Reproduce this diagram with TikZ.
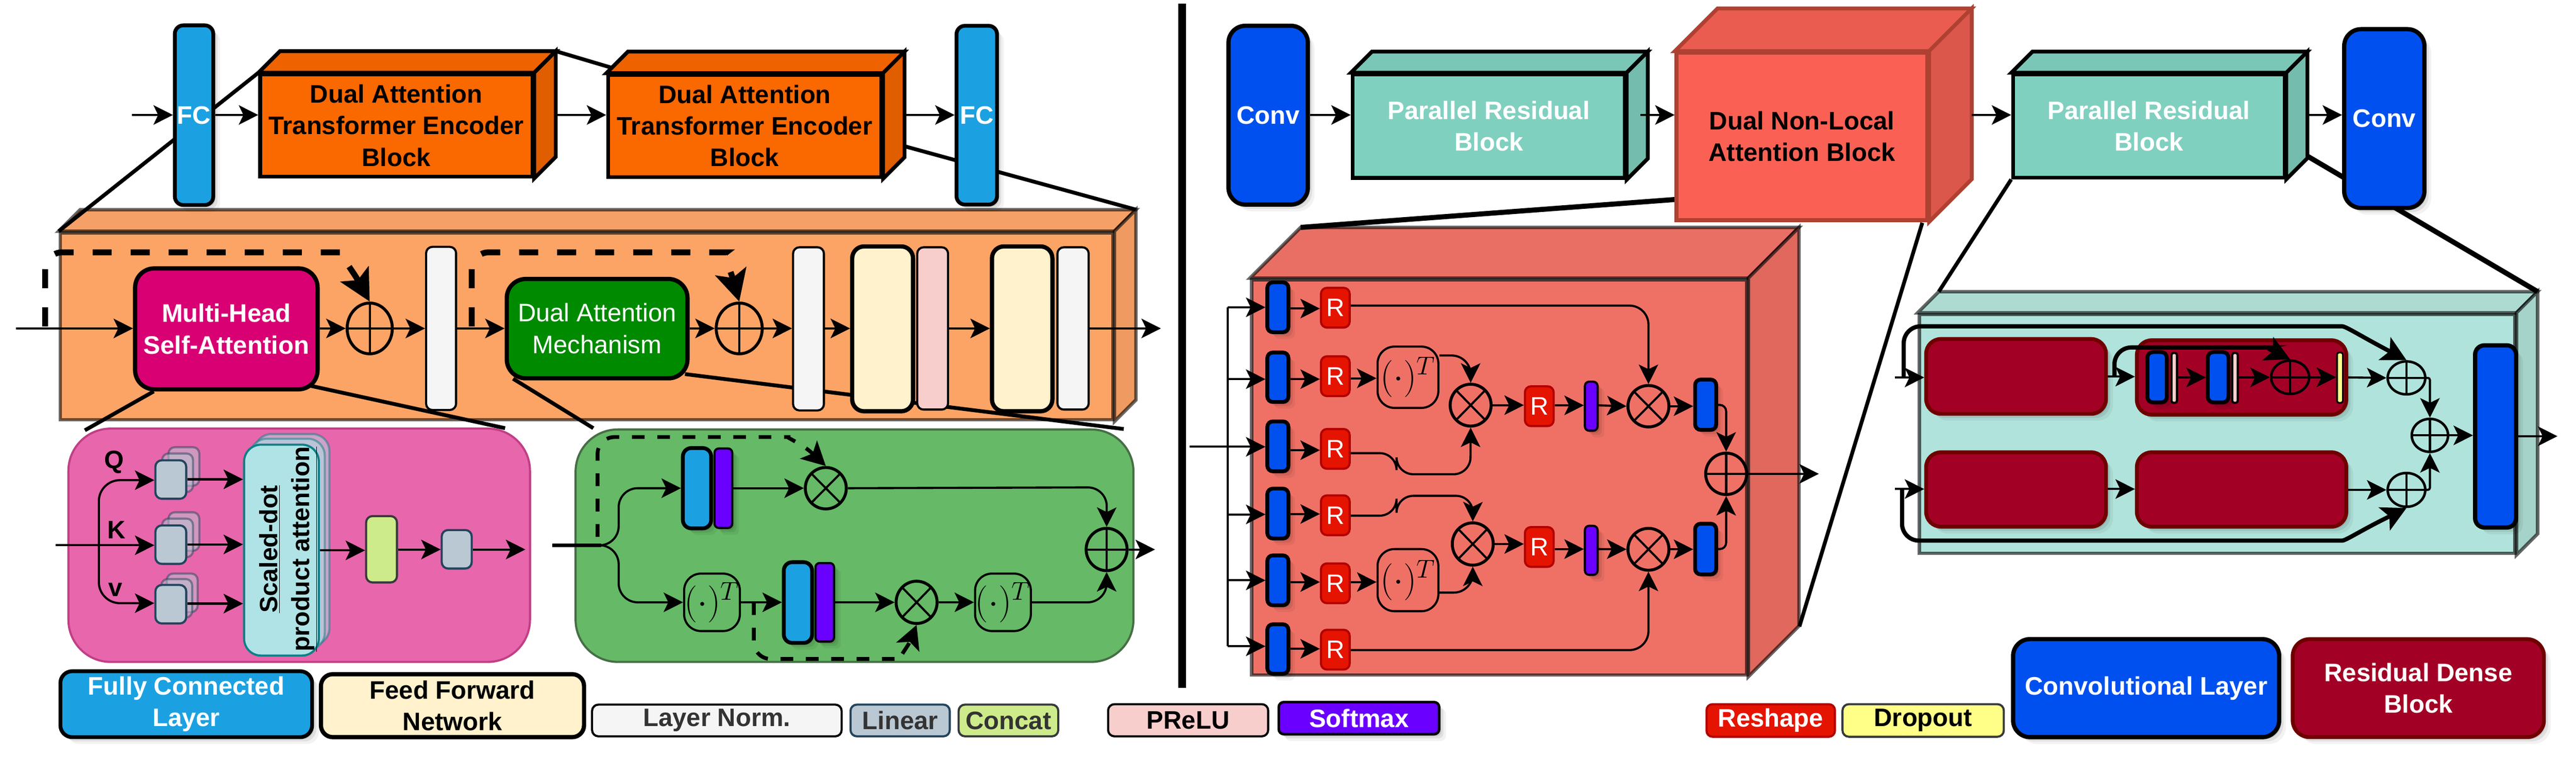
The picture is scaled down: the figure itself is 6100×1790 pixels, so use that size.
\documentclass[tikz,border=0pt]{standalone}
\usepackage{fontspec}
\setmainfont{Liberation Sans}
\usetikzlibrary{arrows.meta,shapes.geometric,shadows,calc}
\definecolor{cFC}{HTML}{1BA1E2}
\definecolor{cConv}{HTML}{0050EF}
\definecolor{cSoft}{HTML}{6A00FF}
\definecolor{cFFN}{HTML}{FFF2CC}
\definecolor{cPR}{HTML}{F8CECC}
\definecolor{cLN}{HTML}{F5F5F5}
\definecolor{cLin}{HTML}{BAC8D3}
\definecolor{cLinS}{HTML}{23445D}
\definecolor{cCat}{HTML}{CDEB8B}
\definecolor{cDark}{HTML}{36393D}
\definecolor{cRes}{HTML}{E51400}
\definecolor{cResS}{HTML}{B20000}
\definecolor{cDrop}{HTML}{FFFF88}
\definecolor{cRDB}{HTML}{A20025}
\definecolor{cRDBS}{HTML}{6F0000}
\definecolor{cMH}{HTML}{D80073}
\definecolor{cDA}{HTML}{008A00}
\definecolor{cSD}{HTML}{B0E3E6}
\definecolor{cSDS}{HTML}{0E8088}
\tikzset{
  fb/.style={font=\fontsize{17}{21.2}\selectfont\bfseries},
  fr/.style={font=\fontsize{17}{21.6}\selectfont},
  softsh/.style={
    general shadow={shadow xshift=.16cm,shadow yshift=-.16cm,fill=black,opacity=.05},
    general shadow={shadow xshift=.10cm,shadow yshift=-.10cm,fill=black,opacity=.08},
    general shadow={shadow xshift=.05cm,shadow yshift=-.05cm,fill=black,opacity=.10}},
  box/.style={rectangle,inner sep=0pt,align=center,draw=black,rounded corners=.15cm},
  fcbox/.style={box,fill=cFC,line width=.09cm,rounded corners=.2cm,text=white,fb,softsh},
  convbox/.style={box,fill=cConv,line width=.1cm,rounded corners=.4cm,text=white,fb,softsh},
  sconv/.style={box,fill=cConv,line width=.09cm,rounded corners=.13cm,softsh},
  softbox/.style={box,fill=cSoft,line width=.05cm,rounded corners=.1cm,softsh},
  ffnbox/.style={box,fill=cFFN,line width=.1cm,rounded corners=.28cm,fb},
  prbox/.style={box,fill=cPR,line width=.05cm},
  lnbox/.style={box,fill=cLN,line width=.05cm},
  linbox/.style={box,fill=cLin,draw=cLinS,line width=.05cm},
  catbox/.style={box,fill=cCat,draw=cDark,line width=.05cm},
  rbox/.style={box,fill=cRes,draw=cResS,line width=.05cm,rounded corners=.14cm,text=white,fr},
  dropbox/.style={box,fill=cDrop,line width=.04cm,rounded corners=.05cm},
  rdb/.style={box,fill=cRDB,draw=cRDBS,line width=.09cm,rounded corners=.35cm,text=white,fb,softsh},
  tbox/.style={box,line width=.05cm,rounded corners=.4cm,font=\fontsize{25}{25}\selectfont},
  panel/.style={box,rounded corners=1cm},
  sdpbox/.style={box,fill=cSD,draw=cSDS,line width=.05cm,rounded corners=.4cm},
  oplus/.style={ellipse,draw=black,line width=.07cm,inner sep=0pt,
    path picture={\draw[line width=.05cm] (path picture bounding box.north)--(path picture bounding box.south)
      (path picture bounding box.west)--(path picture bounding box.east);}},
  otimes/.style={ellipse,draw=black,line width=.07cm,inner sep=0pt,
    path picture={\draw[line width=.05cm] (path picture bounding box.north west)--(path picture bounding box.south east)
      (path picture bounding box.south west)--(path picture bounding box.north east);}},
  arr/.style={-{Stealth[length=.46cm,width=.46cm,inset=.11cm]},line width=.05cm},
  arrbig/.style={-{Stealth[length=.58cm,width=.6cm,inset=.13cm]},line width=.1cm,rounded corners=.4cm},
  conn/.style={line width=.05cm},
  zl/.style={line width=.09cm,black},
  zlb/.style={line width=.12cm,black},
  dashbig/.style={-{Stealth[length=.74cm,width=.75cm,inset=.16cm]},line width=.14cm,dash pattern=on .45cm off .45cm,rounded corners=.4cm},
  dashsm/.style={-{Stealth[length=.56cm,width=.58cm,inset=.13cm]},line width=.09cm,dash pattern=on .3cm off .3cm,rounded corners=.4cm},
  orange top/.style={fill={rgb,255:red,245;green,160;blue,102},draw=black,draw opacity=.6,line width=.08cm},
  orange side/.style={fill={rgb,255:red,238;green,154;blue,96},draw=black,draw opacity=.6,line width=.08cm},
  orange front/.style={box,rounded corners=0pt,fill={rgb,255:red,252;green,164;blue,102},draw=black,draw opacity=.6,line width=.08cm},
  date top/.style={fill={rgb,255:red,238;green,98;blue,0},draw=black,line width=.09cm},
  date side/.style={fill={rgb,255:red,224;green,93;blue,0},draw=black,line width=.09cm},
  date front/.style={box,rounded corners=0pt,fill={rgb,255:red,250;green,104;blue,0},line width=.09cm,fb},
  prb top/.style={fill={rgb,255:red,122;green,198;blue,183},draw=black,line width=.09cm},
  prb side/.style={fill={rgb,255:red,116;green,188;blue,174},draw=black,line width=.09cm},
  prb front/.style={box,rounded corners=0pt,fill={rgb,255:red,128;green,208;blue,192},line width=.09cm,fb,text=white},
  dnl top/.style={fill={rgb,255:red,233;green,92;blue,79},draw={rgb,255:red,174;green,65;blue,50},line width=.09cm},
  dnl side/.style={fill={rgb,255:red,220;green,87;blue,75},draw={rgb,255:red,174;green,65;blue,50},line width=.09cm},
  dnl front/.style={box,rounded corners=0pt,fill={rgb,255:red,250;green,97;blue,84},draw={rgb,255:red,174;green,65;blue,50},line width=.09cm,fb},
  att top/.style={fill={rgb,255:red,233;green,111;blue,100},draw=black,draw opacity=.6,line width=.08cm},
  att side/.style={fill={rgb,255:red,224;green,104;blue,93},draw=black,draw opacity=.6,line width=.08cm},
  att front/.style={box,rounded corners=0pt,fill={rgb,255:red,239;green,113;blue,102},draw=black,draw opacity=.6,line width=.08cm},
  teal top/.style={fill={rgb,255:red,173;green,219;blue,210},draw=black,draw opacity=.6,line width=.08cm},
  teal side/.style={fill={rgb,255:red,165;green,210;blue,201},draw=black,draw opacity=.6,line width=.08cm},
  teal front/.style={box,rounded corners=0pt,fill={rgb,255:red,176;green,227;blue,219},draw=black,draw opacity=.6,line width=.08cm},
}
\newcommand{\bx}[6]{%
  \pgfmathsetmacro\bxX{(#3+#5)/2}\pgfmathsetmacro\bxY{(#4+#6)/2}%
  \pgfmathsetmacro\bxW{(#5-#3-8)*0.01}\pgfmathsetmacro\bxH{(#6-#4-8)*0.01}%
  \node[#1,minimum width=\bxW cm,minimum height=\bxH cm] (#2) at (\bxX,\bxY)}
\newcommand{\cube}[8]{%
  \pgfmathsetmacro\cubA{#2+#6}\pgfmathsetmacro\cubB{#3-#6}\pgfmathsetmacro\cubC{#4+#6}\pgfmathsetmacro\cubD{#5-#6}%
  \coordinate (#1-tl) at (#2,#3);\coordinate (#1-btl) at (\cubA,\cubB);\coordinate (#1-btr) at (\cubC,\cubB);
  \coordinate (#1-tr) at (#4,#3);\coordinate (#1-bbr) at (\cubC,\cubD);\coordinate (#1-br) at (#4,#5);
  \draw[#7 top] (#1-tl)--(#1-btl)--(#1-btr)--(#1-tr)--cycle;
  \draw[#7 side] (#1-tr)--(#1-btr)--(#1-bbr)--(#1-br)--cycle;
  \bx{#7 front}{#1}{#2}{#3}{#4}{#5}{#8};}
\newcommand{\stk}[8]{%
  \pgfmathsetmacro\stA{#3+#8}\pgfmathsetmacro\stB{#4-#8}\pgfmathsetmacro\stC{#5+#8}\pgfmathsetmacro\stD{#6-#8}%
  \bx{#1,opacity=.5}{#2c}{\stA}{\stB}{\stC}{\stD}{};
  \pgfmathsetmacro\stA{#3+#7}\pgfmathsetmacro\stB{#4-#7}\pgfmathsetmacro\stC{#5+#7}\pgfmathsetmacro\stD{#6-#7}%
  \bx{#1,opacity=.5}{#2b}{\stA}{\stB}{\stC}{\stD}{};
  \bx{#1}{#2}{#3}{#4}{#5}{#6}{};}
\newcommand{\TT}{$(\cdot)^{T}$}
\begin{document}
\begin{tikzpicture}[x=0.01cm,y=-0.01cm]
\useasboundingbox (0,0) rectangle (6100,1790);
\fill[white] (0,0) rectangle (6100,1790);

%%% LEFT PANELS
\cube{oc}{139}{547}{2639}{997}{51}{orange}{}
\bx{panel,fill={rgb,255:red,232;green,102;blue,171},draw={rgb,255:red,193;green,63;blue,133},line width=.05cm}{pink}{158}{1010}{1259}{1570}{};
\bx{panel,fill={rgb,255:red,102;green,185;blue,102},draw={rgb,255:red,70;green,110;blue,70},line width=.05cm}{green}{1359}{1012}{2688}{1570}{};

% zoom lines (behind blocks)
\coordinate (zA) at (1488,172);
\coordinate (zB) at (2142,346);
\coordinate (zC) at (364,926);\coordinate (zD) at (201,1018);
\coordinate (zE) at (732,912);\coordinate (zF) at (1196,1013);
\coordinate (zG) at (1215,896);\coordinate (zH) at (1405,1013);
\coordinate (zI) at (1622,885);\coordinate (zJ) at (2661,1015);
\draw[zl] (zC)--(zD);
\draw[zl] (zE)--(zF);
\draw[zl] (zG)--(zH);
\draw[zl] (zI)--(zJ);

\cube{b1}{612}{172}{1265}{422}{51}{date}{Dual Attention\\Transformer Encoder\\Block}
\draw[zl] (b1-btr)--(zA);
\draw[zl] (b1-tl)--(oc-tl);
\draw[zl] (zB)--(oc-btr);
\cube{b2}{1436}{173}{2091}{423}{51}{date}{Dual Attention\\Transformer Encoder\\Block}
\bx{fcbox}{fc1}{410}{56}{509}{489}{FC};
\bx{fcbox}{fc2}{2261}{57}{2365}{488}{FC};
\coordinate (inTop) at (312,272);
\draw[arr] (inTop)--(fc1.west |- inTop);
\draw[arr] (fc1.east |- 0,272)--(b1.west |- 0,272);
\draw[arr] (b1-btr |- 0,272)--(b2.west |- 0,272);
\draw[arr] (b2-btr |- 0,272)--(fc2.west |- 0,272);

% orange interior
\bx{box,fill=cMH,line width=.1cm,rounded corners=.45cm,text=white,font=\fontsize{17}{21.6}\selectfont\bfseries}{mhsa}{316}{631}{756}{925}{Multi-Head\\Self-Attention};
\bx{box,fill=cDA,line width=.1cm,rounded corners=.45cm,text=white,fr}{da}{1196}{656}{1632}{899}{Dual Attention\\Mechanism};
\bx{oplus}{pa}{818}{713}{933}{841}{};
\bx{oplus}{pb}{1692}{713}{1809}{841}{};
\bx{lnbox}{ln1}{1005}{580}{1084}{974}{};
\bx{lnbox}{ln2}{1874}{581}{1955}{975}{};
\bx{ffnbox}{ff1}{2014}{579}{2166}{977}{};
\bx{prbox}{pr1}{2168}{581}{2249}{973}{};
\bx{ffnbox}{ff2}{2345}{579}{2496}{977}{};
\bx{lnbox}{ln3}{2500}{581}{2582}{973}{};
\coordinate (inMain) at (38,777);
\coordinate (outMain) at (2749,777);
\draw[arr] (inMain)--(mhsa.west |- inMain);
\draw[arr] (mhsa.east |- 0,777)--(pa.west);
\draw[arr] (pa.east)--(ln1.west |- 0,777);
\draw[arr] (ln1.east |- 0,777)--(da.west |- 0,777);
\draw[arr] (da.east |- 0,777)--(pb.west);
\draw[arr] (pb.east)--(ln2.west |- 0,777);
\draw[arr] (ln2.east |- 0,777)--(ff1.west |- 0,777);
\draw[arr] (pr1.east |- 0,777)--(ff2.west |- 0,777);
\draw[arr] (ln3.east |- 0,777)--(outMain);
\coordinate (ds1) at (107,772);
\coordinate (ds2) at (1117,772);
\draw[dashbig] (ds1)--(107,597)--(770,597) .. controls (800,597) and (835,640) .. (pa.north);
\draw[dashbig] (ds2)--(1117,597)--(1680,597) .. controls (1710,597) and (1730,640) .. (pb.north);

%%% PINK PANEL
\stk{linbox}{q}{364}{1085}{445}{1184}{16}{31}
\stk{linbox}{k}{364}{1239}{445}{1338}{16}{31}
\stk{linbox}{v}{364}{1380}{445}{1479}{14}{27}
\stk{sdpbox}{sd}{574}{1048}{759}{1555}{14}{25}
\node[fb,inner sep=0pt] (qt) at (270,1093) {Q};
\node[fb,inner sep=0pt] (kt) at (276,1254) {K};
\node[fb,inner sep=0pt] (vt) at (274,1395) {v};
\node[inner sep=0pt,align=center,rotate=90,font=\fontsize{16.8}{21.6}\selectfont\bfseries] (sdt) at (683,1299) {\underline{Scaled-dot}\\\underline{product attention}};
\bx{catbox}{cat}{863}{1217}{944}{1382}{};
\bx{linbox}{lin}{1042}{1250}{1121}{1349}{};
\coordinate (pin) at (132,1290);
\coordinate (psp) at (234,1290);
\coordinate (pout) at (1244,1300);
\draw[arr] (pin)--(k.west |- pin);
\draw[arr,rounded corners=.5cm] (psp)--(234,1136)--(q.west |- 0,1136);
\draw[arr,rounded corners=.5cm] (psp)--(234,1427)--(v.west |- 0,1427);
\draw[arr] (q.east |- 0,1134)--(sd.west |- 0,1134);
\draw[arr] (k.east |- 0,1288)--(sd.west |- 0,1288);
\draw[arr] (v.east |- 0,1428)--(sd.west |- 0,1428);
\draw[arr] (sd.east |- 0,1302)--(cat.west |- 0,1302);
\draw[arr] (cat.east |- 0,1300)--(lin.west |- 0,1300);
\draw[arr] (lin.east |- 0,1300)--(pout);

%%% GREEN PANEL
\bx{fcbox}{gf1}{1613}{1056}{1688}{1254}{};
\bx{softbox}{gs1}{1688}{1057}{1738}{1253}{};
\bx{tbox}{gt1}{1616}{1353}{1756}{1497}{\TT};
\bx{fcbox}{gf2}{1852}{1326}{1927}{1525}{};
\bx{softbox}{gs2}{1927}{1328}{1979}{1522}{};
\bx{tbox}{gt2}{2305}{1353}{2445}{1497}{\TT};
\bx{otimes}{gx1}{1903}{1102}{2008}{1208}{};
\bx{otimes}{gx2}{2118}{1371}{2223}{1479}{};
\bx{oplus}{gp}{2568}{1246}{2673}{1354}{};
\coordinate (gin) at (1308,1290);
\coordinate (gsp) at (1424,1290);
\coordinate (gout) at (2735,1300);
\draw[line width=.09cm] (gin)--(gsp);
\draw[arr,rounded corners=.45cm] (gsp)--(1465,1290)--(1465,1155)--(gf1.west |- 0,1155);
\draw[arr,rounded corners=.45cm] (gsp)--(1465,1290)--(1465,1425)--(gt1.west |- 0,1425);
\draw[arr] (gs1.east |- 0,1155)--(gx1.west);
\draw[arr,rounded corners=.45cm] (gx1.east)--(2621,1153)--(gp.north);
\draw[arr] (gt1.east |- 0,1425)--(gf2.west |- 0,1425);
\draw[arr] (gs2.east |- 0,1425)--(gx2.west);
\draw[arr] (gx2.east)--(gt2.west |- 0,1425);
\draw[arr,rounded corners=.45cm] (gt2.east |- 0,1425)-|(gp.south);
\draw[arr] (gp.east)--(gout);
\coordinate (gd1) at (1415,1270);
\coordinate (gd2) at (1785,1425);
\draw[dashsm] (gd1)--(1415,1034)--(1826,1034) .. controls (1860,1034) and (1900,1050) .. (gx1.north);
\draw[dashsm] (gd2)--(1785,1559)--(2094,1559) .. controls (2125,1559) and (2150,1530) .. (gx2.south);

%%% DIVIDER
\coordinate (dvT) at (2799,9);\coordinate (dvB) at (2799,1627);
\draw[line width=.18cm] (dvT)--(dvB);

%%% LEGEND LEFT
\bx{fcbox,rounded corners=.28cm}{lgFC}{139}{1584}{743}{1748}{Fully Connected\\Layer};
\bx{ffnbox}{lgFF}{756}{1591}{1387}{1748}{Feed Forward\\Network};
\bx{lnbox,fb,text={rgb,255:red,51;green,51;blue,51}}{lgLN}{1398}{1663}{1997}{1746}{Layer Norm.};
\bx{linbox,fb,text={rgb,255:red,51;green,51;blue,51}}{lgLin}{2010}{1663}{2253}{1746}{Linear};
\bx{catbox,fb,text={rgb,255:red,51;green,51;blue,51}}{lgCat}{2266}{1663}{2510}{1746}{Concat};
\bx{prbox,fb}{lgPR}{2620}{1662}{3007}{1746}{PReLU};
\bx{softbox,fb,text=white,line width=.06cm,rounded corners=.12cm}{lgSoft}{3024}{1657}{3412}{1741}{Softmax};

%%% ATTENTION CUBE
\cube{at}{2960}{658}{4140}{1601}{120}{att}{}
\coordinate (zK) at (4552,527);\coordinate (zL) at (4261,1482);
\coordinate (zM) at (3966,472);
\draw[zl] (zK)--(zL);
\draw[zlb] (zM)--(at-btl);

%%% TEAL CUBE
\cube{te}{4541}{740}{5959}{1313}{50}{teal}{}

%%% TOP ROW RIGHT
\coordinate (zN) at (5465,370);
\draw[zlb] (zN)--(te-btr);
\cube{p1}{3199}{172}{3852}{425}{50}{prb}{Parallel Residual\\Block}
\cube{dn}{3966}{121}{4568}{525}{101}{dnl}{Dual Non-Local\\Attention Block}
\cube{p2}{4763}{172}{5414}{424}{50}{prb}{Parallel Residual\\Block}
\draw[zl] (p2.south west)--(te-btl);
\bx{convbox}{cn1}{2905}{57}{3101}{488}{Conv};
\bx{convbox}{cn2}{5547}{65}{5745}{496}{Conv};
\draw[arr] (cn1.east |- 0,272)--(p1.west |- 0,272);
\coordinate (pOut) at (3885,272);
\draw[arr] (pOut)--(dn.west |- pOut);
\draw[arr] (dn-btr |- 0,272)--(p2.west |- 0,272);
\draw[arr] (p2-btr |- 0,272)--(cn2.west |- 0,272);

%%% ATTENTION INTERIOR
\foreach \nm/\ya/\yb in {cv1/664/790,cv2/830/955,cv3/993/1119,cv4/1152/1278,cv5/1310/1436,cv6/1473/1598}{\bx{sconv}{\nm}{2997}{\ya}{3055}{\yb}{};}
\foreach \nm/\ya/\yb in {r1/677/779,r2/839/941,r3/1011/1113,r4/1168/1270,r5/1329/1431,r6/1486/1588}{\bx{rbox}{\nm}{3124}{\ya}{3200}{\yb}{R};}
\bx{tbox}{t1}{3258}{816}{3410}{969}{\TT};
\bx{tbox}{t2}{3258}{1295}{3410}{1450}{\TT};
\bx{otimes}{x1}{3430}{905}{3535}{1012}{};
\bx{otimes}{x2}{3435}{1233}{3540}{1341}{};
\bx{otimes}{x3}{3851}{908}{3956}{1014}{};
\bx{otimes}{x4}{3851}{1246}{3956}{1353}{};
\bx{oplus}{pl}{4035}{1068}{4140}{1174}{};
\bx{rbox}{r7}{3607}{910}{3683}{1012}{R};
\bx{rbox}{r8}{3607}{1243}{3683}{1345}{R};
\bx{softbox}{s1}{3749}{899}{3787}{1023}{};
\bx{softbox}{s2}{3749}{1240}{3787}{1364}{};
\bx{sconv}{cv7}{4010}{894}{4068}{1021}{};
\bx{sconv}{cv8}{4010}{1235}{4068}{1363}{};
\coordinate (atIn) at (2817,1057);
\coordinate (bust) at (2907,727);
\coordinate (busb) at (2907,1529);
\coordinate (atOut) at (4307,1121);
\draw[conn] (bust)--(busb);
\draw[arr] (atIn)--(cv3.west |- atIn);
\draw[arr] (bust)--(cv1.west |- bust);
\draw[arr] (bust |- 0,897)--(cv2.west |- 0,897);
\draw[arr] (bust |- 0,1217)--(cv4.west |- 0,1217);
\draw[arr] (bust |- 0,1373)--(cv5.west |- 0,1373);
\draw[arr] (busb)--(cv6.west |- busb);
\draw[arr] (cv1.east |- 0,730)--(r1.west |- 0,730);
\draw[arr] (cv2.east |- 0,897)--(r2.west |- 0,897);
\draw[arr] (cv3.east |- 0,1065)--(r3.west |- 0,1065);
\draw[arr] (cv4.east |- 0,1216)--(r4.west |- 0,1216);
\draw[arr] (cv5.east |- 0,1377)--(r5.west |- 0,1377);
\draw[arr] (cv6.east |- 0,1535)--(r6.west |- 0,1535);
\draw[arr] (r2.east |- 0,895)--(t1.west |- 0,895);
\draw[arr] (r5.east |- 0,1377)--(t2.west |- 0,1377);
\draw[arr,rounded corners=.45cm] (t1.east |- 0,841)-|(x1.north);
\draw[arr,rounded corners=.4cm] (r3.east |- 0,1072)--(3307,1072)--(3307,1122)--(3482,1122)--(x1.south);
\draw[arr,rounded corners=.4cm] (r4.east |- 0,1220)--(3307,1220)--(3307,1173)--(3488,1173)--(x2.north);
\draw[arr,rounded corners=.45cm] (t2.east |- 0,1402)-|(x2.south);
\draw[arr,rounded corners=.45cm] (r1.east |- 0,723)-|(x3.north);
\draw[arr,rounded corners=.45cm] (r6.east |- 0,1538)-|(x4.south);
\draw[arr] (x1.east)--(r7.west |- x1.east);
\draw[arr] (r7.east |- 0,959)--(s1.west |- 0,959);
\draw[arr] (s1.east |- 0,959)--(x3.west);
\draw[arr] (x3.east)--(cv7.west |- x3.east);
\draw[arr] (x2.east)--(r8.west |- x2.east);
\draw[arr] (r8.east |- 0,1299)--(s2.west |- 0,1299);
\draw[arr] (s2.east |- 0,1299)--(x4.west);
\draw[arr] (x4.east)--(cv8.west |- x4.east);
\draw[arr,rounded corners=.15cm] (cv7.east |- 0,958)-|(pl.north);
\draw[arr,rounded corners=.15cm] (cv8.east |- 0,1299)-|(pl.south);
\draw[arr] (pl.east)--(atOut);

%%% TEAL INTERIOR
\bx{rdb}{d1}{4557}{798}{4991}{983}{};
\bx{rdb}{d2}{5056}{801}{5560}{985}{};
\bx{rdb}{d3}{4557}{1066}{4991}{1250}{};
\bx{rdb}{d4}{5056}{1066}{5560}{1250}{};
\bx{sconv}{e1}{5081}{829}{5135}{956}{};
\bx{prbox,rounded corners=.05cm}{e2}{5138}{831}{5159}{957}{};
\bx{sconv}{e3}{5224}{829}{5281}{956}{};
\bx{prbox,rounded corners=.05cm}{e4}{5282}{831}{5303}{957}{};
\bx{dropbox}{e5}{5530}{830}{5552}{957}{};
\bx{oplus,line width=.06cm}{p3}{5374}{849}{5472}{936}{};
\bx{oplus,line width=.06cm}{pu}{5650}{851}{5747}{937}{};
\bx{oplus,line width=.06cm}{pd}{5650}{1115}{5747}{1203}{};
\bx{oplus,line width=.06cm}{pm}{5707}{987}{5801}{1073}{};
\bx{convbox,rounded corners=.22cm}{cn3}{5857}{813}{5962}{1252}{};
\coordinate (teIn1) at (4487,893);
\coordinate (teIn2) at (4487,1157);
\coordinate (teOut) at (6056,1032);
\coordinate (sk1) at (4508,893);
\coordinate (sk2) at (4504,1157);
\coordinate (sk3) at (5007,891);
\draw[arr] (teIn1)--(d1.west |- teIn1);
\draw[arr] (teIn2)--(d3.west |- teIn2);
\draw[arr] (d1.east |- 0,891)--(d2.west |- 0,891);
\draw[arr] (d3.east |- 0,1157)--(d4.west |- 0,1157);
\draw[arr] (e2.east |- 0,893)--(e3.west |- 0,893);
\draw[arr] (e4.east |- 0,893)--(p3.west);
\draw[arr] (p3.east)--(e5.west |- p3.east);
\draw[arr] (d2.east |- 0,893)--(pu.west);
\draw[arr] (d4.east |- 0,1159)--(pd.west);
\draw[arr,rounded corners=.05cm] (pu.east)-|(pm.north);
\draw[arr,rounded corners=.05cm] (pd.east)-|(pm.south);
\draw[arr] (pm.east)--(cn3.west |- pm.east);
\draw[arr] (cn3.east |- 0,1032)--(teOut);
\draw[arrbig] (sk1)--(4508,772)--(5506,772) .. controls (5555,772) and (5590,795) .. (pu.north);
\draw[arrbig] (sk2)--(4504,1279)--(5506,1279) .. controls (5555,1279) and (5590,1255) .. (pd.south);
\draw[arrbig] (sk3)--(5007,822)--(5333,822) .. controls (5365,822) and (5385,832) .. (p3.north);

%%% LEGEND RIGHT
\bx{rbox,fb}{lgR}{4037}{1662}{4349}{1747}{Reshape};
\bx{box,fill=cDrop,draw=cDark,line width=.05cm,fb}{lgD}{4359}{1662}{4749}{1747}{Dropout};
\bx{convbox}{lgC}{4763}{1508}{5401}{1748}{Convolutional Layer};
\bx{rdb,rounded corners=.4cm}{lgRD}{5425}{1508}{6028}{1748}{Residual Dense\\Block};
\end{tikzpicture}
\end{document}
